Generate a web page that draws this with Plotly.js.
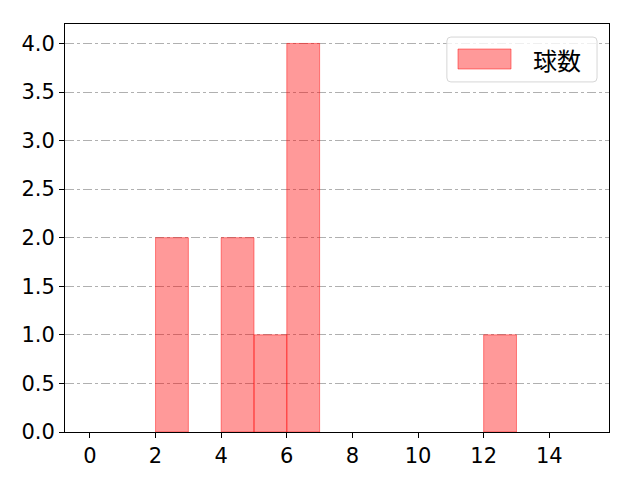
<!DOCTYPE html>
<html>
<head>
<meta charset="utf-8">
<script src="https://cdn.plot.ly/plotly-3.0.1.min.js"></script>
<style>
  html, body { margin: 0; padding: 0; background: #fff; }
  #plot { width: 640px; height: 480px; }
</style>
</head>
<body>
<div id="plot"></div>
<script>
// histogram bins (left edge, width 1) and counts, empty bins left out
const binStarts = [2, 4, 5, 6, 12];
const counts    = [2, 2, 1, 4, 1];
const xTicks = [0, 2, 4, 6, 8, 10, 12, 14];
const yTicks = [0, 0.5, 1, 1.5, 2, 2.5, 3, 3.5, 4];
const seriesName = '球数';

const tickFont = '"DejaVu Sans", sans-serif';
const jpFont = '"Noto Sans CJK JP", "DejaVu Sans", sans-serif';
const barFill = 'rgba(255,0,0,0.4)';
const barEdge = 'rgba(255,0,0,0.45)';

const trace = {
    type: 'bar',
    x: binStarts,
    y: counts,
    width: 1,
    offset: 0,
    name: seriesName,
    showlegend: false,
    marker: { color: barFill, line: { color: barEdge, width: 1 } },
};

// matplotlib-like legend box drawn by hand (rounded frame, wide swatch)
function roundRect(x0, y0, x1, y1, rx, ry) {
    return `M${x0 + rx},${y0} L${x1 - rx},${y0} Q${x1},${y0} ${x1},${y0 + ry} ` +
           `L${x1},${y1 - ry} Q${x1},${y1} ${x1 - rx},${y1} L${x0 + rx},${y1} ` +
           `Q${x0},${y1} ${x0},${y1 - ry} L${x0},${y0 + ry} Q${x0},${y0} ${x0 + rx},${y0} Z`;
}
const rx = 4 / 544, ry = 4 / 408;

const layout = {
    width: 640,
    height: 480,
    paper_bgcolor: '#fff',
    plot_bgcolor: '#fff',
    font: { family: tickFont, color: '#000', size: 21 },
    margin: { l: 65, r: 31, t: 24, b: 48 },
    bargap: 0,
    xaxis: {
        range: [-0.76, 15.82],
        tickvals: xTicks,
        ticktext: xTicks.map(String),
        ticks: 'outside', ticklen: 5, tickcolor: '#000',
        showline: true, linecolor: '#000', linewidth: 1, mirror: true,
        showgrid: false, zeroline: false,
    },
    yaxis: {
        range: [0, 4.2],
        tickvals: yTicks,
        ticktext: yTicks.map(v => v.toFixed(1)),
        ticks: 'outside', ticklen: 5, tickcolor: '#000',
        showline: true, linecolor: '#000', linewidth: 1, mirror: true,
        showgrid: true, gridcolor: '#b0b0b0', gridwidth: 1, griddash: 'dashdot',
        zeroline: false,
    },
    shapes: [
        {
            type: 'path', xref: 'paper', yref: 'paper',
            path: roundRect(0.702, 0.858, 0.978, 0.968, rx, ry),
            fillcolor: 'rgba(255,255,255,0.8)', line: { color: '#d6d6d6', width: 1 },
        },
        {
            type: 'rect', xref: 'paper', yref: 'paper',
            x0: 0.7224, x1: 0.8199, y0: 0.8897, y1: 0.9387,
            fillcolor: barFill, line: { color: barEdge, width: 1 },
        },
    ],
    annotations: [{
        xref: 'paper', yref: 'paper', x: 0.905, y: 0.914,
        xanchor: 'center', yanchor: 'middle', showarrow: false,
        text: seriesName, font: { family: jpFont, size: 24, color: '#000' },
    }],
};

Plotly.newPlot('plot', [trace], layout, { displayModeBar: false, staticPlot: true });
</script>
</body>
</html>
